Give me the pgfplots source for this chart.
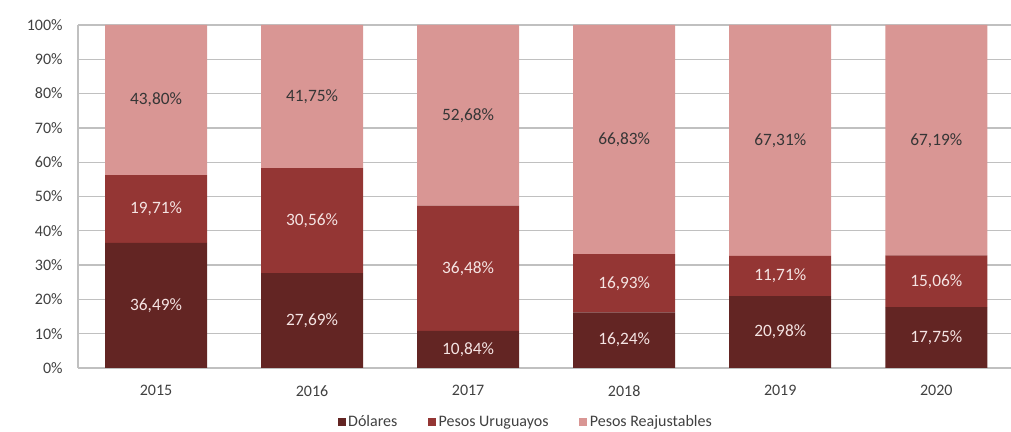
\documentclass[border=0pt]{standalone}
\usepackage{fontspec}
\setmainfont{Carlito}
\usepackage{pgfplots}
\pgfplotsset{compat=1.18}
\definecolor{cDol}{HTML}{632523}
\definecolor{cPU}{HTML}{943634}
\definecolor{cPR}{HTML}{D99694}
\definecolor{gridc}{HTML}{C0C0C0}
\definecolor{txt}{HTML}{404040}
\definecolor{lighttxt}{HTML}{F5E4E3}
\pgfplotsset{
  base/.style={
    at={(58.5pt,48pt)}, anchor=south west,
    scale only axis, width=700pt, height=257.25pt,
    xmin=-0.5, xmax=5.481, ymin=0, ymax=100,
  }
}
\begin{document}
\begin{tikzpicture}
\useasboundingbox (0,0) rectangle (758.25pt,324pt);
\begin{axis}[
  base,
  ybar stacked, bar width=76.5pt,
  xtick={0,1,2,3,4,5},
  xticklabels={2015,2016,2017,2018,2019,2020},
  ytick={0,10,20,30,40,50,60,70,80,90,100},
  yticklabels={0\%,10\%,20\%,30\%,40\%,50\%,60\%,70\%,80\%,90\%,100\%},
  major tick length=0pt,
  ymajorgrids, grid style={gridc, line width=1pt},
  separate axis lines,
  axis x line*=bottom, axis y line*=left,
  axis line style={gridc, line width=1pt, -},
  tick label style={font=\fontsize{12}{14}\selectfont, text=txt},
  yticklabel style={xshift=-8pt},
  xticklabel style={yshift=-9.5pt},
  legend columns=3,
  legend style={at={(0.480,-0.158)}, anchor=center, draw=none, fill=none,
    font=\fontsize{12}{14}\selectfont, text=txt,
    /tikz/every even column/.append style={column sep=21pt},
    nodes={inner sep=2pt}},
  legend image code/.code={\fill[#1] (0pt,-3pt) rectangle (6pt,3pt);},
]
\addplot[fill=cDol, draw=none] coordinates {(0,36.49) (1,27.69) (2,10.84) (3,16.24) (4,20.98) (5,17.75)};
\addplot[fill=cPU, draw=none] coordinates {(0,19.71) (1,30.56) (2,36.48) (3,16.93) (4,11.71) (5,15.06)};
\addplot[fill=cPR, draw=none] coordinates {(0,43.80) (1,41.75) (2,52.68) (3,66.83) (4,67.31) (5,67.19)};
\legend{Dólares, Pesos Uruguayos, Pesos Reajustables}
\end{axis}
\begin{axis}[base, hide axis]
\addplot[draw=none, mark=none, point meta=explicit symbolic,
  nodes near coords={\pgfplotspointmeta\%},
  every node near coord/.append style={anchor=center, text=lighttxt, font=\fontsize{13}{15}\selectfont}]
  table[meta=lab] {
x y lab
0 18.245 36,49
1 13.845 27,69
2 5.42 10,84
3 8.12 16,24
4 10.49 20,98
5 8.875 17,75
0 46.345 19,71
1 42.97 30,56
2 29.08 36,48
3 24.705 16,93
4 26.835 11,71
5 25.28 15,06
};
\addplot[draw=none, mark=none, point meta=explicit symbolic,
  nodes near coords={\pgfplotspointmeta\%},
  every node near coord/.append style={anchor=center, text=txt!85!black, font=\fontsize{13}{15}\selectfont}]
  table[meta=lab] {
x y lab
0 78.1 43,80
1 79.125 41,75
2 73.66 52,68
3 66.585 66,83
4 66.345 67,31
5 66.405 67,19
};
\end{axis}
\end{tikzpicture}
\end{document}
